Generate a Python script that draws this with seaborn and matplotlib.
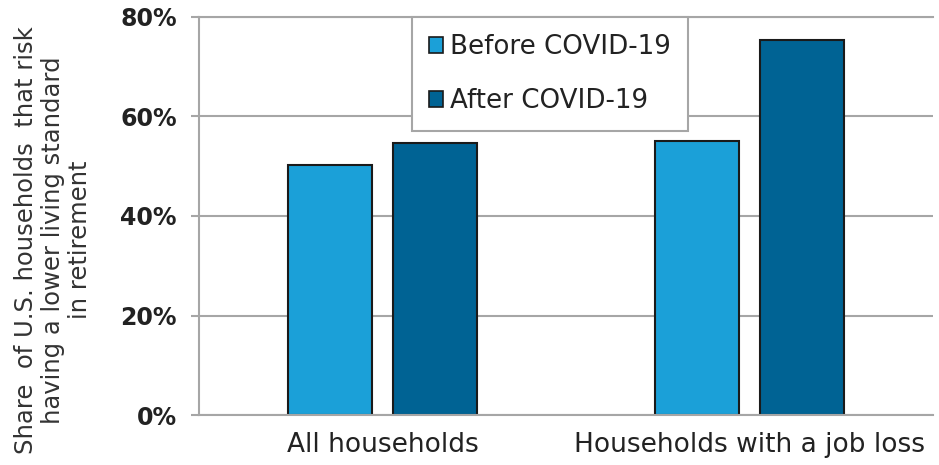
import numpy as np
import pandas as pd
import matplotlib
matplotlib.use('Agg')
import matplotlib.pyplot as plt
import matplotlib.patches as mpatches
import seaborn as sns

# ---------------------------------------------------------------
# Data
# ---------------------------------------------------------------
groups = ['All households', 'Households with a job loss']
periods = ['Before COVID-19', 'After COVID-19']
before_covid = [50.3, 55.1]
after_covid = [54.7, 75.3]
y_ticks = [0, 20, 40, 60, 80]

df = pd.DataFrame({
    'group': groups * 2,
    'period': [periods[0]] * len(groups) + [periods[1]] * len(groups),
    'share': before_covid + after_covid,
})

colors = {'Before COVID-19': '#1BA0D8', 'After COVID-19': '#006394'}
grey = '#A6A6A6'
edge = '#1A1A1A'

# ---------------------------------------------------------------
# Figure
# ---------------------------------------------------------------
sns.set_style('white')
plt.rcParams['font.family'] = ['DejaVu Sans']

fig = plt.figure(figsize=(9.39, 4.65), dpi=100)
ax = fig.add_axes([0.212, 0.1075, 0.7816, 0.856])

sns.barplot(
    data=df, x='group', y='share', hue='period',
    order=groups, hue_order=periods, palette=colors, saturation=1,
    width=0.572, gap=0.2, edgecolor=edge, linewidth=1.5,
    legend=False, ax=ax
)

ax.set_axisbelow(True)
ax.set_xlim(-0.5, 1.5)
ax.set_ylim(0, 80)
ax.set_yticks(y_ticks)
ax.set_yticklabels([f'{t}%' for t in y_ticks], fontsize=17, fontweight='bold',
                   color='#222222')
ax.yaxis.grid(True, color=grey, linewidth=1.5)
ax.xaxis.grid(False)

# category boundaries as minor ticks, labels on major ticks
ax.set_xticks([-0.5, 0.5, 1.5], minor=True)
ax.tick_params(axis='x', which='major', length=0, pad=12, labelsize=19,
               labelcolor='#222222')
ax.tick_params(axis='x', which='minor', length=6, width=1.5, color=grey,
               direction='out')
ax.tick_params(axis='y', length=6, width=1.5, color=grey, direction='out',
               pad=10, left=True)
ax.set_xlabel('')

for side in ['left', 'bottom', 'top']:
    ax.spines[side].set_color(grey)
    ax.spines[side].set_linewidth(1.5)
ax.spines['right'].set_visible(False)

ax.set_ylabel('Share  of U.S. households  that risk\nhaving a lower living standard\nin retirement',
              fontsize=17.5, color='#333333', linespacing=1.15, va='center', ha='center')
ax.yaxis.set_label_coords(-0.199, 0.44)

handles = [mpatches.Patch(facecolor=colors[p], edgecolor=edge, linewidth=1.2, label=p)
           for p in periods]
leg = ax.legend(handles=handles, loc='upper left', bbox_to_anchor=(0.29, 1.0),
                borderaxespad=0, frameon=True, fancybox=False, framealpha=1,
                edgecolor=grey, fontsize=18.8, handlelength=0.55, handleheight=0.55,
                handletextpad=0.25, labelspacing=1.07, borderpad=0.65)
leg.get_frame().set_linewidth(1.5)
for t in leg.get_texts():
    t.set_color('#222222')

plt.savefig('out.png', dpi=100)
